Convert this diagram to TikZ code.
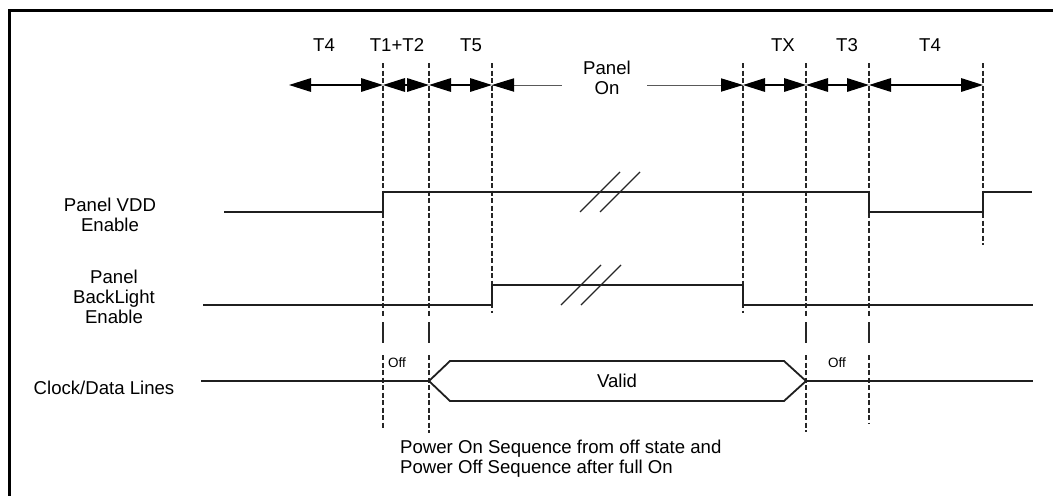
\documentclass[tikz,border=0pt]{standalone}
\usepackage{fontspec}
\setmainfont{Liberation Sans}
\usetikzlibrary{arrows.meta}
\begin{document}
\begin{tikzpicture}[x=1pt,y=-1pt,
  sig/.style={line width=1.8pt, color=black!88, line join=miter},
  guide/.style={line width=1.3pt, color=black!85, dash pattern=on 5pt off 2.5pt},
  guidesolid/.style={line width=1.3pt, color=black!85},
  tip/.tip={Triangle[length=22pt,width=13.5pt]},
  dim/.style={line width=1.6pt, color=black, tip-tip},
  thinline/.style={line width=0.9pt, color=black!65},
  lbl/.style={font=\fontsize{18.6}{20}\selectfont, align=center, inner sep=0pt},
  small/.style={font=\fontsize{13.5}{15}\selectfont, inner sep=0pt},
  frame/.style={line width=3pt, color=black}]
\useasboundingbox (0,0) rectangle (1053,496);

% frame (top and left only)
\draw[frame] (1053,10.5) -- (9,10.5) -- (9,496);

% guide positions
\foreach \n/\x in {a/383,b/429,c/492,d/743,e/806,f/869,g/983}{
  \coordinate (\n) at (\x,85);
}

% dashed guide lines
\draw[guide] (383,63) -- (383,316);
\draw[guidesolid] (383,322) -- (383,343);
\draw[guide] (383,355) -- (383,429);
\draw[guide] (429,63) -- (429,316);
\draw[guidesolid] (429,322) -- (429,343);
\draw[guide] (429,355) -- (429,433);
\draw[guide] (492,63) -- (492,313);
\draw[guide] (743,63) -- (743,313);
\draw[guide] (806,63) -- (806,316);
\draw[guidesolid] (806,322) -- (806,343);
\draw[guide] (806,355) -- (806,432);
\draw[guide] (869,63) -- (869,316);
\draw[guidesolid] (869,322) -- (869,343);
\draw[guide] (869,355) -- (869,424);
\draw[guide] (983,63) -- (983,245);

% dimension arrows
\coordinate (t4s) at (289,85);
\draw[dim] (t4s) -- (a);
\draw[dim] (a) -- (b);
\draw[dim] (b) -- (c);
\coordinate (pon1) at (562,85);
\coordinate (pon2) at (647,85);
\draw[thinline] (c) -- (pon1);
\draw[thinline] (pon2) -- (d);
\fill[black] (c) -- ++(22,-6.75) -- ++(0,13.5) -- cycle;
\fill[black] (d) -- ++(-22,-6.75) -- ++(0,13.5) -- cycle;
\draw[dim] (d) -- (e);
\draw[dim] (e) -- (f);
\draw[dim] (f) -- (g);

% top labels
\node[lbl] (lT4a) at (324,45) {T4};
\node[lbl] (lT12) at (397,45) {T1+T2};
\node[lbl] (lT5) at (471,45) {T5};
\node[lbl] (lPon) at (607,78) {Panel\\On};
\node[lbl] (lTX) at (783,45) {TX};
\node[lbl] (lT3) at (847,45) {T3};
\node[lbl] (lT4b) at (930,45) {T4};

% signal labels
\node[lbl] (lVDD) at (110,214.5) {Panel VDD\\Enable};
\node[lbl] (lBL) at (114,297) {Panel\\BackLight\\Enable};
\node[lbl] (lCLK) at (104,388) {Clock/Data Lines};

% Panel VDD enable
\draw[sig] (224,212) -- (383,212) -- (383,192) -- (869,192) -- (869,212) -- (983,212) -- (983,192) -- (1032,192);
\draw[line width=1.2pt, color=black!85] (580,212) -- (620,172);
\draw[line width=1.2pt, color=black!85] (600,212) -- (640,172);

% Backlight enable
\draw[sig] (203,305) -- (492,305) -- (492,285) -- (743,285) -- (743,305) -- (1033,305);
\draw[line width=1.2pt, color=black!85] (561,305) -- (601,265);
\draw[line width=1.2pt, color=black!85] (581,305) -- (621,265);

% Clock/Data lines
\draw[sig] (201,381) -- (429,381);
\draw[sig] (429,381) -- (450,361) -- (784,361) -- (806,381) -- (784,401) -- (450,401) -- cycle;
\draw[sig] (806,381) -- (1033,381);
\node[lbl] (lValid) at (617,381) {Valid};
\node[small] (lOff1) at (397,363) {Off};
\node[small] (lOff2) at (837,363) {Off};

% caption
\node[lbl, anchor=west, align=left] (cap) at (400,459) {Power On Sequence from off state and\\Power Off Sequence after full On};
\end{tikzpicture}
\end{document}
